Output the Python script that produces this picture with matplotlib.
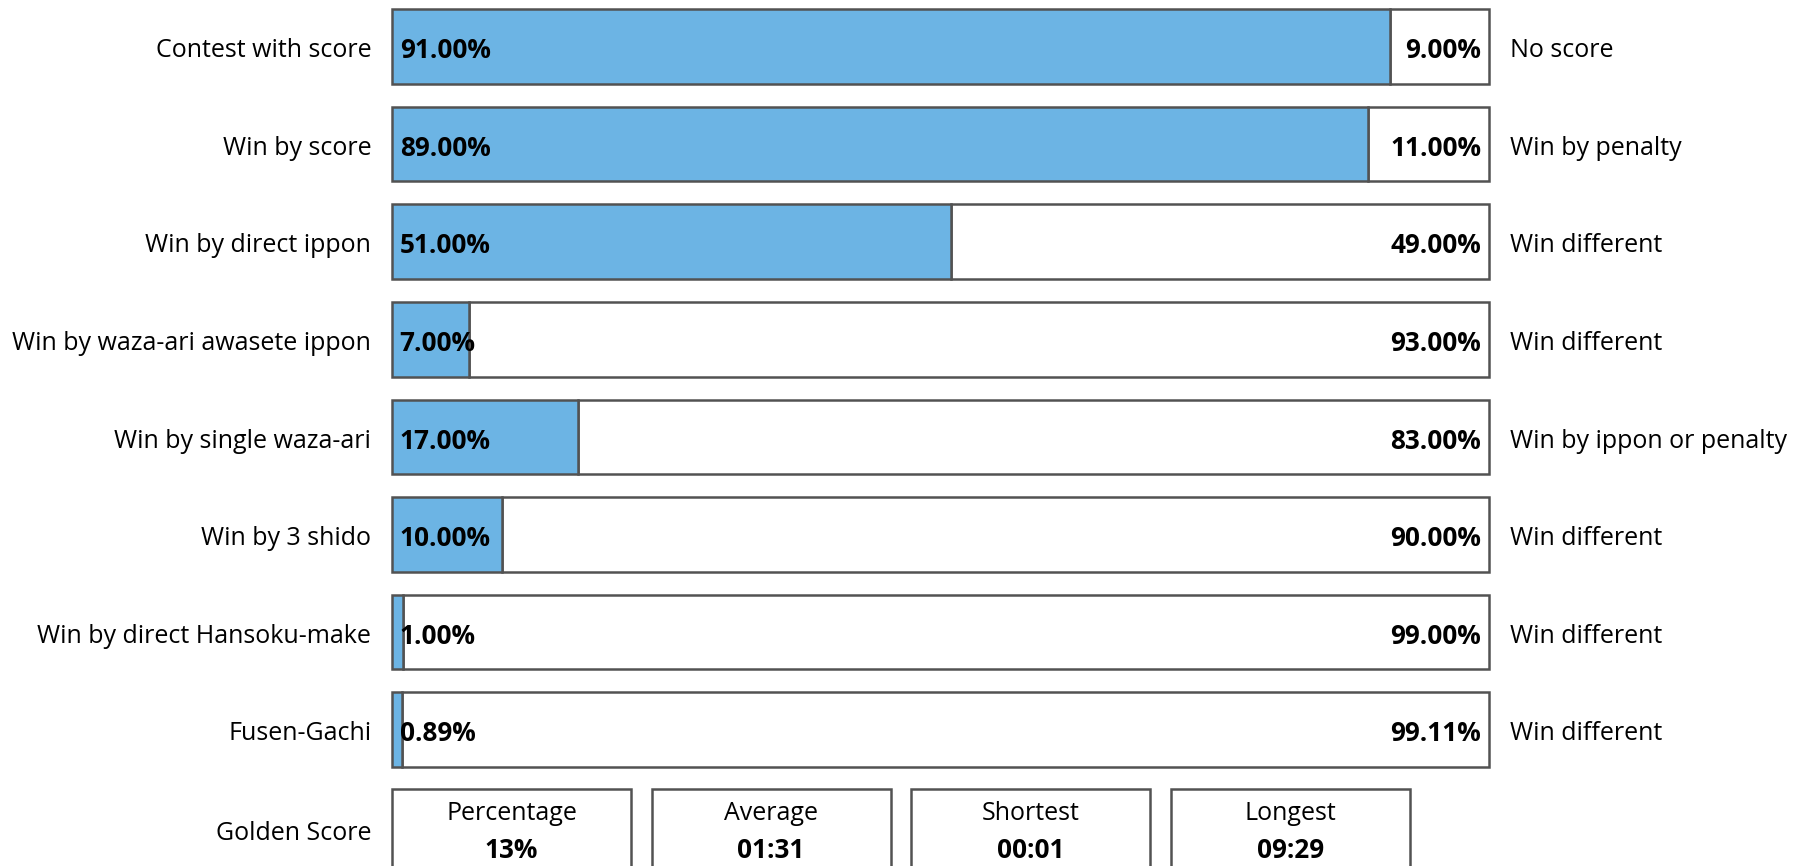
import matplotlib
matplotlib.use("Agg")
import matplotlib.pyplot as plt
from matplotlib.patches import Rectangle

plt.rcParams['font.family'] = ['Open Sans', 'DejaVu Sans']

left_labels = ["Contest with score", "Win by score", "Win by direct ippon",
               "Win by waza-ari awasete ippon", "Win by single waza-ari",
               "Win by 3 shido", "Win by direct Hansoku-make", "Fusen-Gachi"]
right_labels = ["No score", "Win by penalty", "Win different", "Win different",
                "Win by ippon or penalty", "Win different", "Win different",
                "Win different"]
left_values = [91.00, 89.00, 51.00, 7.00, 17.00, 10.00, 1.00, 0.89]
right_values = [9.00, 11.00, 49.00, 93.00, 83.00, 90.00, 99.00, 99.11]

gs_title = "Golden Score"
gs_names = ["Percentage", "Average", "Shortest", "Longest"]
gs_values = ["13%", "01:31", "00:01", "09:29"]

W, H = 1800, 866
fig = plt.figure(figsize=(W / 100, H / 100), dpi=100)

BLUE = "#6cb4e4"
EDGE = "#525252"
FS = 18
FSB = 18.8

bar_h = 0.764
top_px, bot_px = 9.2, 767.0
ax = fig.add_axes([392 / W, 1 - bot_px / H, (1489 - 392) / W, (bot_px - top_px) / H])
n = len(left_values)
ys = list(range(n))
b1 = ax.barh(ys, left_values, height=bar_h, color=BLUE, edgecolor=EDGE, linewidth=1.8, zorder=3)
b2 = ax.barh(ys, right_values, left=left_values, height=bar_h, color="white",
             edgecolor=EDGE, linewidth=1.8, zorder=2)
for p in list(b1) + list(b2):
    p.set_clip_on(False)
ax.set_xlim(0, 100)
ax.set_ylim(n - 1 + bar_h / 2, -bar_h / 2)
ax.axis("off")

dy = -3
for y, lv, rv, ll, rl in zip(ys, left_values, right_values, left_labels, right_labels):
    ax.annotate(f"{lv:.2f}%", (0, y), xytext=(5.5, dy), textcoords="offset points",
                ha="left", va="center", fontsize=FSB, fontweight="bold", zorder=5)
    ax.annotate(f"{rv:.2f}%", (100, y), xytext=(-5.5, dy), textcoords="offset points",
                ha="right", va="center", fontsize=FSB, fontweight="bold", zorder=5)
    ax.annotate(ll, (0, y), xytext=(-15, dy), textcoords="offset points",
                ha="right", va="center", fontsize=FS, annotation_clip=False)
    ax.annotate(rl, (100, y), xytext=(15, dy), textcoords="offset points",
                ha="left", va="center", fontsize=FS, annotation_clip=False)

# Golden score boxes
box_top = 788.6
ax2 = fig.add_axes([392 / W, -40 / H, (1410 - 392) / W, (H + 40 - box_top) / H])
ax2.set_xlim(0, 1018)
ax2.set_ylim(H + 40, box_top)
ax2.axis("off")
box_w, box_gap = 239, 20.6
for i, (nm, val) in enumerate(zip(gs_names, gs_values)):
    x0 = i * (box_w + box_gap)
    ax2.add_patch(Rectangle((x0, box_top), box_w, 120, facecolor="white",
                            edgecolor=EDGE, linewidth=1.8, clip_on=False))
    ax2.text(x0 + box_w / 2, 813, nm, ha="center", va="center", fontsize=FS)
    ax2.text(x0 + box_w / 2, 851, val, ha="center", va="center", fontsize=FSB,
             fontweight="bold")
ax2.text(-21, 834, gs_title, ha="right", va="center", fontsize=FS)

fig.savefig("out.png", dpi=100, facecolor="white")
